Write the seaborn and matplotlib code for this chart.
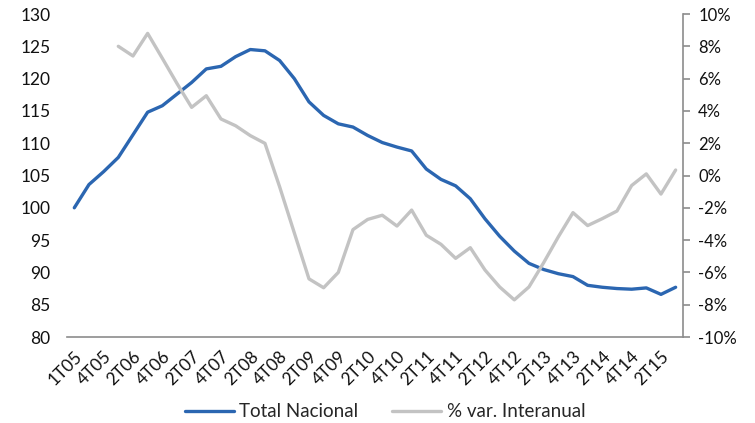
import matplotlib
matplotlib.use("Agg")
import matplotlib.pyplot as plt
import seaborn as sns
import numpy as np
import pandas as pd
from matplotlib.ticker import FuncFormatter, MultipleLocator

# ---- data ----
quarters = [f"{q}T{y:02d}" for y in range(5, 16) for q in range(1, 5)][:42]  # 1T05 .. 2T15
total_nacional = [100.0, 103.6, 105.6, 107.8, 111.3, 114.8, 115.8, 117.6, 119.4, 121.5,
                  121.9, 123.4, 124.5, 124.3, 122.8, 120.0, 116.4, 114.3, 113.0, 112.5,
                  111.2, 110.1, 109.4, 108.8, 106.0, 104.4, 103.4, 101.4, 98.3, 95.6,
                  93.3, 91.4, 90.45, 89.8, 89.35, 88.0, 87.7, 87.5, 87.4, 87.6,
                  86.6, 87.7]
var_interanual = [np.nan, np.nan, np.nan, 8.0, 7.4, 8.8, 7.26, 5.7, 4.22, 4.94,
                  3.5, 3.08, 2.47, 1.99, -0.7, -3.55, -6.4, -6.95, -6.0, -3.35,
                  -2.72, -2.46, -3.13, -2.14, -3.7, -4.26, -5.13, -4.47, -5.85, -6.9,
                  -7.7, -6.9, -5.4, -3.8, -2.3, -3.1, -2.67, -2.2, -0.62, 0.1,
                  -1.15, 0.34]
tick_labels = ["1T05", "4T05", "2T06", "4T06", "2T07", "4T07", "2T08", "4T08", "2T09",
               "4T09", "2T10", "4T10", "2T11", "4T11", "2T12", "4T12", "2T13", "4T13",
               "2T14", "4T14", "2T15"]

df = pd.DataFrame({"idx": np.arange(len(quarters)), "quarter": quarters,
                   "total": total_nacional, "var": var_interanual})

sns.set_theme(style="white")
plt.rcParams["font.family"] = ["Lato", "DejaVu Sans"]
plt.rcParams["axes.unicode_minus"] = False

BLUE = "#2B66B1"
GRAY = "#C3C3C3"
AXC = "#8C8C8C"
TXT = "#111111"

fig = plt.figure(figsize=(7.55, 4.23), dpi=100)
ax = fig.add_axes([0.0887, 0.2033, 0.8159, 0.7636])
ax2 = ax.twinx()

sns.lineplot(data=df, x="idx", y="total", ax=ax, color=BLUE, linewidth=2.4,
             label="Total Nacional", legend=False)
sns.lineplot(data=df.dropna(), x="idx", y="var", ax=ax2, color=GRAY, linewidth=2.4,
             label="% var. Interanual", legend=False)

ax.set_xlim(-0.5, len(quarters) - 0.5)
ax.set_ylim(80, 130)
ax.yaxis.set_major_locator(MultipleLocator(5))
ax2.set_ylim(-10, 10)
ax2.yaxis.set_major_locator(MultipleLocator(2))
ax2.yaxis.set_major_formatter(FuncFormatter(lambda v, p: f"{int(round(v))}%"))

ax.set_xticks(np.arange(0, len(tick_labels) * 2, 2))
ax.set_xticklabels(tick_labels, rotation=45, ha="right", va="top",
                   rotation_mode="anchor")
ax.set_xlabel("")
ax.set_ylabel("")
ax2.set_ylabel("")

for a in (ax, ax2):
    for s in a.spines.values():
        s.set_visible(False)
ax.spines["bottom"].set_visible(True)
ax.spines["bottom"].set_color(AXC)
ax.spines["bottom"].set_linewidth(1.2)
ax2.spines["right"].set_visible(True)
ax2.spines["right"].set_color(AXC)
ax2.spines["right"].set_linewidth(1.2)

ax.tick_params(axis="y", length=0, pad=12, labelsize=12.5, labelcolor=TXT)
ax.tick_params(axis="x", length=0, pad=8, labelsize=12.5, labelcolor=TXT)
ax2.tick_params(axis="y", right=True, length=5, width=1.2, color=AXC, direction="out",
                pad=6, labelsize=12, labelcolor=TXT)
ax.grid(False)
ax2.grid(False)

h1, l1 = ax.get_legend_handles_labels()
h2, l2 = ax2.get_legend_handles_labels()
fig.legend(h1 + h2, l1 + l2, loc="center", bbox_to_anchor=(0.51, 0.027), ncol=2,
           frameon=False, fontsize=13.5, handlelength=2.6, handletextpad=0.3,
           columnspacing=1.8)

fig.savefig("out.png", dpi=100)
